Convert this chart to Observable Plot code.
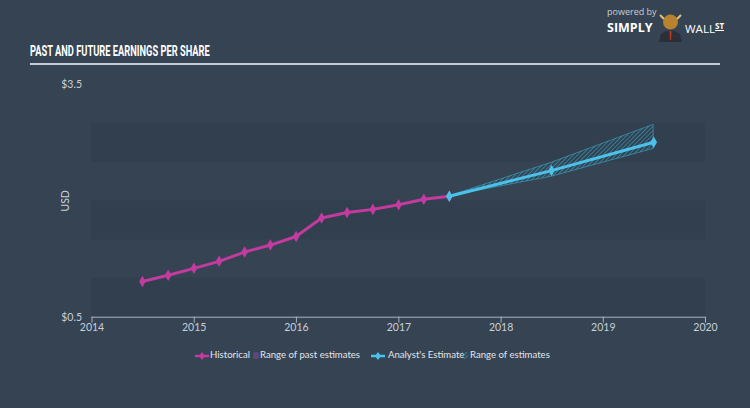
<!DOCTYPE html>
<html><head><meta charset="utf-8">
<script src="https://cdn.jsdelivr.net/npm/d3@7"></script>
<script src="https://cdn.jsdelivr.net/npm/@observablehq/plot@0.6"></script>
<style>
body{margin:0;background:#354353;}
#wrap{position:relative;width:750px;height:408px;background:#354353;overflow:hidden;font-family:Lato,"Open Sans",sans-serif;}
#title{position:absolute;left:30px;top:44px;font-family:Roboto,"Open Sans",sans-serif;font-weight:bold;font-size:15px;line-height:1;color:#fff;white-space:nowrap;transform:scaleX(0.62);transform-origin:left top;}
#rule{position:absolute;left:30px;top:63px;width:690px;height:2px;background:#c5ced8;}
#chart{position:absolute;left:0;top:70px;}
.lg{position:absolute;top:350px;font-size:9.6px;line-height:1;color:#e2e6eb;white-space:nowrap;}
.logo{position:absolute;line-height:1;white-space:nowrap;font-family:"Open Sans",sans-serif;color:#fff;}
</style></head>
<body>
<svg width="0" height="0" style="position:absolute">
  <defs>
    <pattern id="hatch" patternUnits="userSpaceOnUse" width="3" height="3" patternTransform="rotate(45)">
      <line x1="0" y1="0" x2="0" y2="3" stroke="#3ab3d4" stroke-width="1.1"/>
    </pattern>
  </defs>
</svg>
<div id="wrap">
  <div class="logo" style="left:607px;top:7px;font-size:9px;color:#c9ced4">powered by</div>
  <div class="logo" style="left:607px;top:22px;font-size:12.5px;font-weight:bold">SIMPLY</div>
  <svg style="position:absolute;left:657px;top:12px" width="27" height="30">
    <ellipse cx="13.5" cy="10" rx="7.5" ry="7.5" fill="#b8822e"/>
    <path d="M3 3 L7 7 M24 3 L20 7" stroke="#e2c27a" stroke-width="2"/>
    <path d="M4 22 Q13.5 15 23 22 L25 30 L2 30 Z" fill="#2b2f38"/>
    <path d="M12.5 19 L14.5 19 L14 28 L13 28 Z" fill="#c0392b"/>
  </svg>
  <div class="logo" style="left:685px;top:23px;font-size:11.5px">WALL</div>
  <div class="logo" style="left:715px;top:22px;font-size:8px;font-weight:bold;text-decoration:underline">ST</div>
  <div id="title">PAST AND FUTURE EARNINGS PER SHARE</div>
  <div id="rule"></div>
  <div id="chart"></div>
  <svg class="lg" style="left:195px;top:351px" width="14" height="10"><line x1="0" y1="5" x2="14" y2="5" stroke="#c23b9f" stroke-width="2.5"/><path d="M7 1 L10 5 L7 9 L4 5 Z" fill="#c23b9f"/></svg>
  <div class="lg" style="left:210px">Historical</div>
  <svg class="lg" style="left:253px;top:352px" width="6" height="7"><rect width="6" height="7" rx="2" fill="#5b4a78"/></svg>
  <div class="lg" style="left:260px">Range of past estimates</div>
  <svg class="lg" style="left:371px;top:351px" width="14" height="10"><line x1="0" y1="5" x2="14" y2="5" stroke="#4cc2ea" stroke-width="2.5"/><path d="M7 1 L10 5 L7 9 L4 5 Z" fill="#4cc2ea"/></svg>
  <div class="lg" style="left:388px">Analyst's Estimate</div>
  <svg class="lg" style="left:462px;top:352px" width="6" height="7"><rect width="6" height="7" fill="url(#hatch)"/></svg>
  <div class="lg" style="left:470px">Range of estimates</div>
</div>
<script>
const histDates = ["2014-06-30","2014-09-30","2014-12-31","2015-03-31","2015-06-30","2015-09-30","2015-12-31","2016-03-31","2016-06-30","2016-09-30","2016-12-31","2017-03-31","2017-06-30"];
const histEPS = [0.96,1.04,1.13,1.22,1.34,1.43,1.54,1.78,1.85,1.89,1.95,2.02,2.06];
const fcDates = ["2017-06-30","2018-06-30","2019-06-30"];
const fcEPS = [2.06,2.39,2.755];
const fcLow = [2.06,2.31,2.67];
const fcHigh = [2.06,2.49,2.98];
const bandLow = [0.5,1.5,2.5];
const bandHigh = [1.0,2.0,3.0];
const yTicks = [0.5,3.5];
const xTickYears = [2014,2015,2016,2017,2018,2019,2020];

const xTicks = xTickYears.map(y => new Date(Date.UTC(y,0,1)));
const hist = histDates.map((d,i) => ({date:new Date(d), eps:histEPS[i]}));
const fc = fcDates.map((d,i) => ({date:new Date(d), eps:fcEPS[i], lo:fcLow[i], hi:fcHigh[i]}));
const bands = bandLow.map((lo,i) => ({lo, hi:bandHigh[i], x1:xTicks[0], x2:xTicks[xTicks.length-1]}));

const chart = Plot.plot({
  width:750, height:270,
  marginLeft:91.5, marginRight:45, marginTop:14, marginBottom:23.3,
  style:{background:"transparent", color:"#c8d0d9", fontSize:"10.5px", fontFamily:"Lato, 'Open Sans', sans-serif"},
  x:{type:"utc", domain:[xTicks[0], xTicks[xTicks.length-1]]},
  y:{domain:[yTicks[0], yTicks[yTicks.length-1]]},
  marks:[
    Plot.rect(bands, {x1:"x1", x2:"x2", y1:"lo", y2:"hi", fill:"#323f4e"}),
    Plot.ruleY([yTicks[0]], {stroke:"#a9b3be", strokeWidth:1}),
    Plot.axisX({ticks:xTicks, tickFormat:d3.utcFormat("%Y"), tickSize:6, tickPadding:0, stroke:"#a9b3be", label:null}),
    Plot.axisY({ticks:yTicks, tickFormat:d => "$" + d.toFixed(1), tickSize:0, tickPadding:10, label:"USD", labelAnchor:"center", labelOffset:30, labelArrow:"none"}),
    Plot.areaY(fc, {x:"date", y1:"lo", y2:"hi", fill:"url(#hatch)", stroke:"#3aa9c8", strokeWidth:0.6}),
    Plot.line(hist, {x:"date", y:"eps", stroke:"#c23b9f", strokeWidth:3}),
    Plot.dot(hist, {x:"date", y:"eps", symbol:"diamond", r:3.5, fill:"#c23b9f"}),
    Plot.line(fc, {x:"date", y:"eps", stroke:"#4cc2ea", strokeWidth:3}),
    Plot.dot(fc, {x:"date", y:"eps", symbol:"diamond", r:3.5, fill:"#4cc2ea"})
  ]
});
document.getElementById("chart").appendChild(chart);
</script>
</body></html>
